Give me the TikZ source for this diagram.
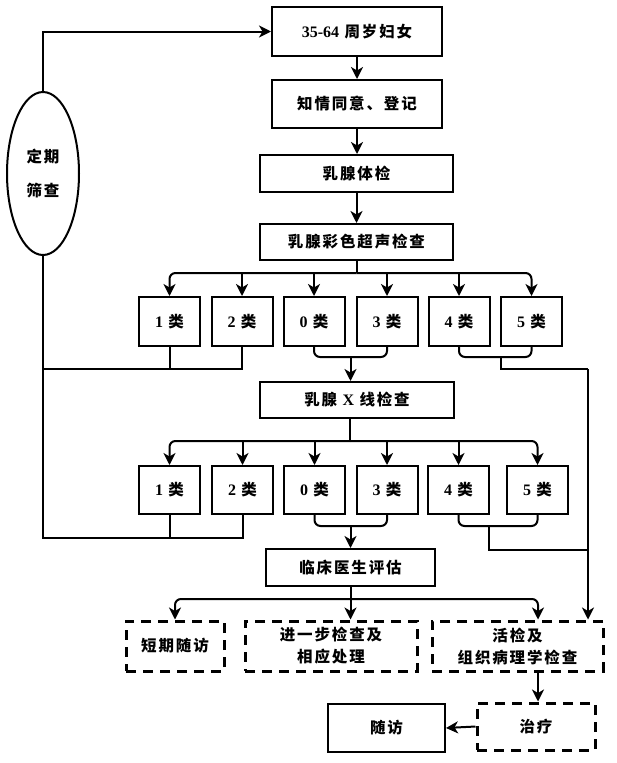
\documentclass[tikz,border=0pt]{standalone}
\usepackage{fontspec}
\setmainfont{Liberation Serif}
\newfontfamily\cjk[LetterSpace=12]{Noto Sans CJK SC}
\usetikzlibrary{arrows.meta,shapes.geometric}
\newcommand\cjkb{\fontsize{15.5}{22}\selectfont\cjk\bfseries}
\newcommand\lat[1]{{\rmfamily\bfseries\fontsize{16}{22}\selectfont #1}}
\begin{document}
\begin{tikzpicture}[x=1pt,y=-1pt,
  ln/.style={line width=2pt},
  arr/.style={ln,-{Stealth[length=12pt,width=12pt,inset=3.5pt]}},
  box/.style={draw,ln,inner sep=0pt,align=center,font=\cjkb},
  cat/.style={box,minimum width=61,minimum height=49},
  dbox/.style={box,line width=3pt,dash pattern=on 10pt off 7pt},
]
\useasboundingbox (0,0) rectangle (616,763);

% main column
\node[box,minimum width=170,minimum height=49] (n1) at (357,31.5) {\lat{35-64} 周岁妇女};
\node[box,minimum width=170,minimum height=48] (n2) at (357,104) {知情同意、登记};
\node[box,minimum width=193,minimum height=37] (n3) at (356.5,173.5) {乳腺体检};
\node[box,minimum width=193,minimum height=36] (n4) at (356.5,242) {乳腺彩色超声检查};
\node[draw,ln,ellipse,minimum width=72,minimum height=163,inner sep=0pt,align=center,font=\cjkb] (e) at (43,173.5) {定期\\[12pt]筛查};

% row 1
\node[cat] (a1) at (169.5,321.5) {\lat{1} 类};
\node[cat] (b1) at (242,321.5) {\lat{2} 类};
\node[cat] (c1) at (314,321.5) {\lat{0} 类};
\node[cat] (d1) at (387,321.5) {\lat{3} 类};
\node[cat] (f1) at (459,321.5) {\lat{4} 类};
\node[cat] (g1) at (531.5,321.5) {\lat{5} 类};

\node[box,minimum width=194,minimum height=36] (x) at (357,400) {乳腺 \lat{X} 线检查};

% row 2
\node[cat,minimum height=48] (a2) at (169.5,490) {\lat{1} 类};
\node[cat,minimum height=48] (b2) at (242.5,490) {\lat{2} 类};
\node[cat,minimum height=48] (c2) at (314.5,490) {\lat{0} 类};
\node[cat,minimum height=48] (d2) at (387,490) {\lat{3} 类};
\node[cat,minimum height=48] (f2) at (458.5,490) {\lat{4} 类};
\node[cat,minimum height=48] (g2) at (537.5,490) {\lat{5} 类};

\node[box,minimum width=169,minimum height=37] (cl) at (350.5,567.5) {临床医生评估};

\node[dbox,minimum width=98,minimum height=50] (s1) at (175,646) {短期随访};
\node[dbox,minimum width=172,minimum height=50] (s2) at (331,646) {进一步检查及\\相应处理};
\node[dbox,minimum width=171,minimum height=50] (s3) at (517.5,646) {活检及\\组织病理学检查};
\node[dbox,minimum width=118,minimum height=47] (t) at (536,726.5) {治疗};
\node[box,minimum width=117,minimum height=48] (v) at (386.5,728) {随访};

% coordinates
\coordinate (k1) at (356.5,273);
\coordinate (m1) at (350.5,357);
\coordinate (m2) at (501,357);
\coordinate (l1) at (43,369);
\coordinate (rx) at (588,369);
\coordinate (k2) at (350,441);
\coordinate (m3) at (350.5,526);
\coordinate (m4) at (489,526);
\coordinate (l2) at (43,538);
\coordinate (r2) at (588,550);
\coordinate (k3) at (350.5,599);
\coordinate (p3) at (538,599);

% top connectors
\draw[arr] (e.north) |- (n1.west);
\draw[arr] (n1.south) -- (n1.south |- n2.north);
\draw[arr] (n2.south) -- (n2.south |- n3.north);
\draw[arr] (n3.south) -- (n3.south |- n4.north);

% bus 1
\draw[ln] (n4.south) -- (k1);
\draw[arr,rounded corners=6] (k1) -| (a1.north);
\draw[arr,rounded corners=6] (k1) -| (g1.north);
\foreach \t in {b1,c1,d1,f1} \draw[arr] (k1 -| \t.north) -- (\t.north);

% row 1 merges
\draw[ln] (a1.south) -- (a1.south |- l1);
\draw[ln] (b1.south) |- (l1);
\draw[ln,rounded corners=6] (c1.south) |- (m1) -| (d1.south);
\draw[arr] (m1) -- (m1 |- x.north);
\draw[ln,rounded corners=6] (f1.south) |- (m2) -| (g1.south);
\draw[ln] (m2) |- (rx);
\draw[arr] (rx) -- (rx |- s3.north);

% bus 2
\draw[ln] (k2 |- x.south) -- (k2);
\draw[arr,rounded corners=6] (k2) -| (a2.north);
\draw[arr,rounded corners=6] (k2) -| (g2.north);
\foreach \t in {b2,c2,d2,f2} \draw[arr] (k2 -| \t.north) -- (\t.north);

% row 2 merges
\draw[ln] (e.south) |- (b2.south |- l2) -- (b2.south);
\draw[ln] (a2.south) -- (a2.south |- l2);
\draw[ln,rounded corners=6] (c2.south) |- (m3) -| (d2.south);
\draw[arr] (m3) -- (m3 |- cl.north);
\draw[ln,rounded corners=6] (f2.south) |- (m4) -| (g2.south);
\draw[ln] (m4) |- (r2);

% bus 3
\draw[ln] (cl.south) -- (k3);
\draw[arr,rounded corners=6] (k3) -| (s1.north);
\draw[arr] (k3) -- (k3 |- s2.north);
\draw[arr,rounded corners=6] (k3) -| (p3 |- s3.north);

% bottom
\draw[arr] (p3 |- s3.south) -- (p3 |- t.north);
\draw[arr] (t.west) -- (v.east);
\end{tikzpicture}
\end{document}
